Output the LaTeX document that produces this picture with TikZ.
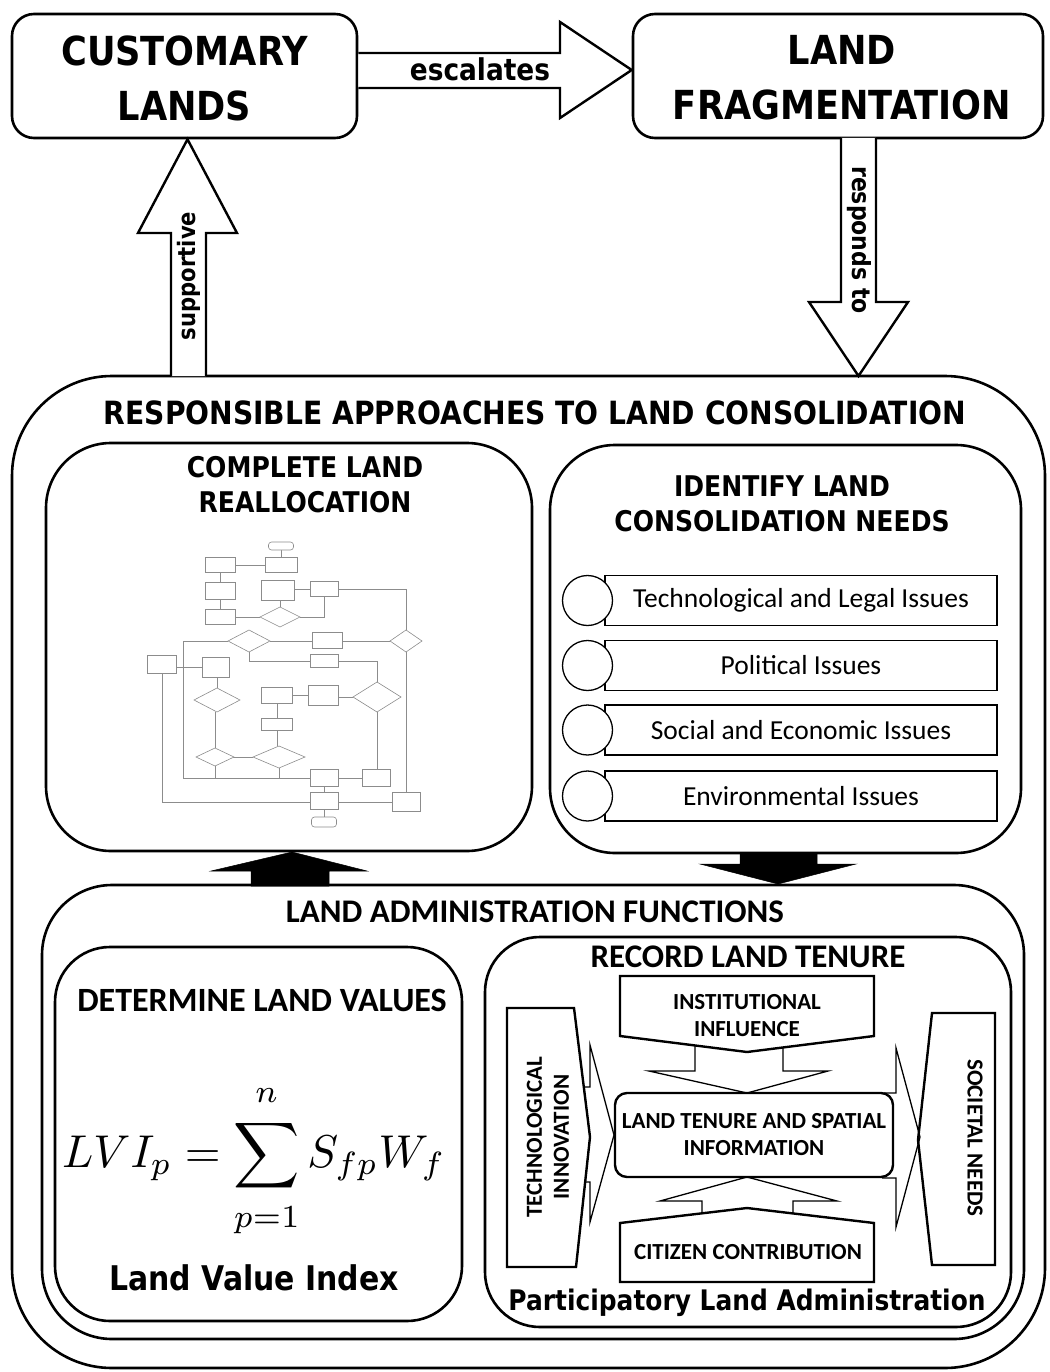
\documentclass[tikz,border=0pt]{standalone}
\usepackage{amsmath}
\usepackage[no-math]{fontspec}
\setmainfont{Carlito}
\newfontfamily\djfont{DejaVu Sans}[FakeStretch=0.88]
\usetikzlibrary{arrows.meta}
\begin{document}
\begin{tikzpicture}[x=1pt,y=-1pt,
  frame/.style={draw, line width=2.6pt, rounded corners=#1, inner sep=0pt},
  blockarrow/.style={draw, line width=2.4pt, fill=white, line join=miter},
  thinarrow/.style={draw, line width=1.3pt, fill=white, line join=miter},
  solidarrow/.style={fill=black, draw=black, line width=0.5pt},
  shapebox/.style={draw, line width=2.4pt, fill=white, line join=miter},
  issuebox/.style={draw, line width=1.8pt, inner sep=0pt, minimum width=392pt, minimum height=50pt},
  issuecirc/.style={draw, line width=1.3pt, fill=white, circle, inner sep=0pt, minimum size=50pt},
  txt/.style={inner sep=0pt, align=center},
  bigdj/.style={txt, font=\djfont\bfseries\fontsize{40}{55}\selectfont},
  armlbl/.style={txt, font=\djfont\bfseries\fontsize{#1}{30}\selectfont},
  headdj/.style={txt, font=\djfont\bfseries\fontsize{#1}{35}\selectfont},
  calb/.style={txt, font=\bfseries\fontsize{#1}{27}\selectfont},
  fcb/.style={draw=black!45, line width=0.6pt, fill=white, inner sep=0pt},
  fcl/.style={draw=black!45, line width=0.6pt},
]
\useasboundingbox (0,0) rectangle (1049,1372);

% ---------- top boxes ----------
\node[frame=22pt, minimum width=345pt, minimum height=124pt] (cust) at (184.5,76) {};
\node[bigdj] (custt) at (184.5,78) {CUSTOMARY\\LANDS};
\node[frame=22pt, minimum width=410pt, minimum height=124pt] (frag) at (838,76) {};
\node[bigdj] (fragt) at (842,78) {LAND\\FRAGMENTATION};

% escalates arrow
\draw[blockarrow] (cust.east |- 0,53) -- (560,53) -- (560,22) -- (frag.west |- 0,70) -- (560,118) -- (560,88) -- (cust.east |- 0,88);
\node[armlbl=30] (esc) at (480,69) {escalates};

% outer frame
\node[frame=100pt, minimum width=1033pt, minimum height=992pt] (outer) at (528.5,872) {};

% supportive arrow
\draw[blockarrow] (171,376) -- (171,233) -- (138,233) -- (cust.south -| 187.5,0) -- (237,233) -- (206,233) -- (206,376);
\node[armlbl=24, rotate=90] (sup) at (189,276) {supportive};

% responds to arrow
\draw[blockarrow] (841,138) -- (841,302) -- (809,302) -- (858.5,376) -- (908,302) -- (876,302) -- (876,138);
\node[armlbl=25, rotate=-90] (resp) at (859,240) {responds to};

\node[headdj=32] (rat) at (535,413) {RESPONSIBLE APPROACHES TO LAND CONSOLIDATION};

% ---------- complete land reallocation ----------
\node[frame=65pt, minimum width=486pt, minimum height=408pt] (realloc) at (289,647) {};
\node[headdj=28.5] (realloct) at (305,485) {COMPLETE LAND\\REALLOCATION};

% flowchart thumbnail
\begin{scope}
\draw[fcl] (281,550)--(281,557);
\draw[fcl] (265,565)--(235,565);
\draw[fcl] (220,573)--(220,583);
\draw[fcl] (220,600)--(220,610);
\draw[fcl] (235,617)--(260,617);
\draw[fcl] (280,607)--(280,600);
\draw[fcl] (295,589)--(310,589);
\draw[fcl] (300,617)--(324,617)--(324,597);
\draw[fcl] (338,589)--(406,589)--(406,630);
\draw[fcl] (390,641)--(342,641);
\draw[fcl] (312,641)--(270,641);
\draw[fcl] (228,641)--(183,641)--(183,778)--(310,778);
\draw[fcl] (249,652)--(249,661)--(310,661);
\draw[fcl] (338,661)--(377,661)--(377,682);
\draw[fcl] (203,667)--(177,667);
\draw[fcl] (217,688)--(217,677);
\draw[fcl] (277,703)--(277,718);
\draw[fcl] (308,695)--(293,695);
\draw[fcl] (353,697)--(338,697);
\draw[fcl] (377,712)--(377,770);
\draw[fcl] (362,778)--(338,778);
\draw[fcl] (277,730)--(277,746);
\draw[fcl] (253,757)--(233,757);
\draw[fcl] (215,748)--(215,712);
\draw[fcl] (215,766)--(215,778);
\draw[fcl] (279,768)--(279,778);
\draw[fcl] (324,787)--(324,793);
\draw[fcl] (324,810)--(324,817);
\draw[fcl] (162,673)--(162,802)--(310,802);
\draw[fcl] (392,802)--(338,802);
\draw[fcl] (406,652)--(406,793);
\node[fcb, rounded corners=3pt, minimum width=25pt, minimum height=8pt] (f1) at (281,546) {};
\node[fcb, minimum width=32pt, minimum height=15pt] (f2) at (281,565) {};
\node[fcb, minimum width=30pt, minimum height=15pt] (f3) at (220,565) {};
\node[fcb, minimum width=30pt, minimum height=17pt] (f4) at (220,591) {};
\node[fcb, minimum width=30pt, minimum height=15pt] (f5) at (220,617) {};
\node[fcb, minimum width=33pt, minimum height=20pt] (f6) at (278,590) {};
\node[fcb, minimum width=28pt, minimum height=15pt] (f7) at (324,589) {};
\draw[fcl, fill=white] (260,617)--(280,607)--(300,617)--(280,627)--cycle;
\draw[fcl, fill=white] (228,641)--(249,630)--(270,641)--(249,652)--cycle;
\node[fcb, minimum width=30pt, minimum height=16pt] (f10) at (327,640) {};
\draw[fcl, fill=white] (390,641)--(406,630)--(422,641)--(406,652)--cycle;
\node[fcb, minimum width=28pt, minimum height=13pt] (f12) at (324,661) {};
\node[fcb, minimum width=29pt, minimum height=18pt] (f13) at (162,664) {};
\node[fcb, minimum width=27pt, minimum height=20pt] (f14) at (216,667) {};
\draw[fcl, fill=white] (194,700)--(217,688)--(240,700)--(217,712)--cycle;
\node[fcb, minimum width=31pt, minimum height=16pt] (f16) at (277,695) {};
\node[fcb, minimum width=30pt, minimum height=20pt] (f17) at (323,695) {};
\draw[fcl, fill=white] (353,697)--(377,682)--(401,697)--(377,712)--cycle;
\node[fcb, minimum width=31pt, minimum height=12pt] (f19) at (277,724) {};
\draw[fcl, fill=white] (196,757)--(215,748)--(234,757)--(215,766)--cycle;
\draw[fcl, fill=white] (253,757)--(279,746)--(305,757)--(279,768)--cycle;
\node[fcb, minimum width=28pt, minimum height=17pt] (f22) at (324,778) {};
\node[fcb, minimum width=28pt, minimum height=17pt] (f23) at (376,778) {};
\node[fcb, minimum width=28pt, minimum height=17pt] (f24) at (324,801) {};
\node[fcb, minimum width=28pt, minimum height=19pt] (f25) at (406,802) {};
\node[fcb, rounded corners=3pt, minimum width=25pt, minimum height=10pt] (f26) at (324,822) {};
\end{scope}

% ---------- identify needs ----------
\node[frame=65pt, minimum width=471pt, minimum height=408pt] (ident) at (785.5,649) {};
\node[headdj=28.5] (identt) at (782,504) {IDENTIFY LAND\\CONSOLIDATION NEEDS};

\foreach \n/\y/\t in {1/600.5/Technological and Legal Issues, 2/665.5/Political Issues, 3/730/Social and Economic Issues, 4/796/Environmental Issues}{
  \node[issuebox] (iss\n) at (801,\y) {};
  \node[issuecirc] (c\n) at (587.5,\y) {};
  \node[txt, font=\fontsize{27.5}{30}\selectfont] (isst\n) at (801,\y) {\t};
}

% ---------- solid arrows ----------
\draw[solidarrow] (251,886) -- (251,871) -- (211,871) -- (292,852) -- (367,871) -- (329,871) -- (329,886) -- cycle;
\draw[solidarrow] (740,853) -- (740,864) -- (700,864) -- (778,884) -- (856,864) -- (817,864) -- (817,853) -- cycle;

% ---------- land administration ----------
\node[frame=70pt, minimum width=982pt, minimum height=454pt] (ladm) at (533,1112) {};
\node[calb=33] (ladmt) at (535,912) {LAND ADMINISTRATION FUNCTIONS};

\node[frame=55pt, minimum width=407pt, minimum height=374pt] (det) at (258.5,1134) {};
\node[calb=34] (dett) at (262,1000) {DETERMINE LAND VALUES};
\node[txt] (lvi) at (254,1161) {\scalebox{4.6}{$\displaystyle LVI_p=\sum_{\raisebox{-1.6pt}{$\scriptstyle p=1$}}^{\raisebox{1.6pt}{$\scriptstyle n$}}S_{fp}W_f$}};
\node[txt, font=\djfont\bfseries\fontsize{34}{38}\selectfont] (lvit) at (254,1278) {Land Value Index};

\node[frame=55pt, minimum width=526pt, minimum height=390pt] (rec) at (748,1132) {};
\node[calb=33] (rect) at (748,957) {RECORD LAND TENURE};

% thin open arrows
\draw[thinarrow] (695,1040) -- (695,1071) -- (649,1071) -- (747,1093) -- (828,1071) -- (783,1071) -- (783,1040);
\draw[thinarrow] (702,1225) -- (702,1201) -- (660,1201) -- (747,1177) -- (837,1201) -- (793,1201) -- (793,1225);
\draw[thinarrow] (575,1087) -- (590,1087) -- (590,1045) -- (614,1135) -- (590,1222) -- (590,1182) -- (575,1182);

% shapes
\draw[shapebox] (620,976) -- (874,976) -- (874,1036) -- (747,1052) -- (620,1036) -- cycle;
\node[calb=23] (inst) at (747,1016) {INSTITUTIONAL\\INFLUENCE};
\draw[shapebox] (620,1282) -- (874,1282) -- (874,1223) -- (747,1208) -- (620,1223) -- cycle;
\node[calb=23] (citz) at (748,1252) {CITIZEN CONTRIBUTION};
\draw[shapebox] (507,1008) -- (574,1008) -- (590,1137) -- (576,1267) -- (507,1267) -- cycle;
\node[calb=23, rotate=90] (tech) at (548,1137) {TECHNOLOGICAL\\INNOVATION};
\draw[shapebox] (932,1013) -- (995,1013) -- (995,1265) -- (932,1265) -- (918,1140) -- cycle;
\node[calb=23, rotate=-90] (soc) at (975,1138) {SOCIETAL NEEDS};
\node[draw, line width=2.4pt, fill=white, rounded corners=12pt, minimum width=278pt, minimum height=84pt, inner sep=0pt] (ltsi) at (754,1135) {};
\node[calb=23] (ltsit) at (754,1135) {LAND TENURE AND SPATIAL\\INFORMATION};
\draw[line width=1.3pt, line join=miter] (884,1093) -- (896,1093) -- (896,1048) -- (920,1137) -- (896,1227) -- (896,1178) -- (882,1178);

\node[txt, font=\djfont\bfseries\fontsize{28.3}{32}\selectfont] (pla) at (747,1303) {Participatory Land Administration};
\end{tikzpicture}
\end{document}
